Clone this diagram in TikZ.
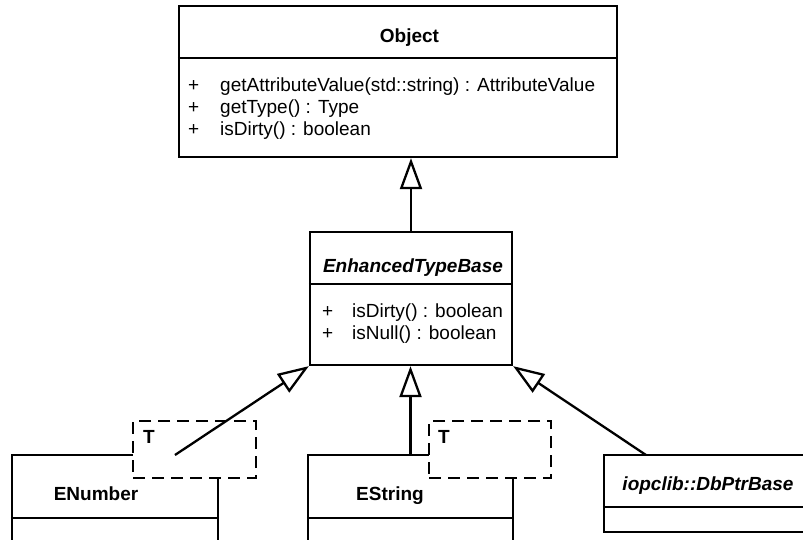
\documentclass[tikz,border=0pt]{standalone}
\usepackage{fontspec}
\setmainfont{Liberation Sans}
\usetikzlibrary{arrows.meta}

\begin{document}
\begin{tikzpicture}[x=1pt,y=-1pt,
    classbox/.style={draw,line width=2.3pt,fill=white,inner sep=0pt},
    tplbox/.style={draw,line width=2.3pt,dash pattern=on 12pt off 7pt,fill=white,inner sep=0pt},
    memb/.style={anchor=base west,inner sep=0pt,font=\fontsize{19}{22}\selectfont},
    cname/.style={anchor=base,inner sep=0pt,font=\fontsize{19}{22}\selectfont\bfseries},
    inherit/.style={-{Triangle[length=31pt,width=22pt,fill=white]},line width=2.3pt}]
                \useasboundingbox (0,0) rectangle (803,539);
                \clip (0,0) rectangle (803,539);
                % classes
                \node[classbox,minimum width=438pt,minimum height=151pt] (obj) at (398,81.5) {};
                \draw[line width=2.3pt] (obj.west |- 0,58) -- (obj.east |- 0,58);
                \node[cname] (objname) at (409.5,42) {Object};
                \foreach \m [count=\i] in {getAttributeValue(std::string) : AttributeValue, getType() : Type, isDirty() : boolean}
                  {\node[memb] (objplus\i) at (188,69+22*\i) {+};
                   \node[memb] (objop\i) at (220,69+22*\i) {\m};}
                \node[classbox,minimum width=202pt,minimum height=133pt] (etb) at (411,298.5) {};
                \draw[line width=2.3pt] (etb.west |- 0,284) -- (etb.east |- 0,284);
                \node[cname] (etbname) at (413,272) {\itshape EnhancedTypeBase};
                \foreach \m [count=\i] in {isDirty() : boolean, isNull() : boolean}
                  {\node[memb] (etbplus\i) at (322,295+22*\i) {+};
                   \node[memb] (etbop\i) at (352,295+22*\i) {\m};}
                \node[classbox,minimum width=206pt,minimum height=145pt] (enum) at (115,527.5) {};
                \draw[line width=2.3pt] (enum.west |- 0,518) -- (enum.east |- 0,518);
                \node[cname] (enumname) at (96,500) {ENumber};
                \node[classbox,minimum width=205pt,minimum height=145pt] (estr) at (410.5,527.5) {};
                \draw[line width=2.3pt] (estr.west |- 0,518) -- (estr.east |- 0,518);
                \node[cname] (estrname) at (390,500) {EString};
                \node[classbox,minimum width=226pt,minimum height=77pt] (dbp) at (717,493.5) {};
                \draw[line width=2.3pt] (dbp.west |- 0,507) -- (dbp.east |- 0,507);
                \node[cname] (dbpname) at (708,490) {\itshape iopclib::DbPtrBase};
                % template parameters
                \node[tplbox,minimum width=123pt,minimum height=57pt] (enumtpl) at (194.5,449.5) {};
                \node[cname,anchor=base west] (enumT) at (143,443) {T};
                \node[tplbox,minimum width=122pt,minimum height=57pt] (estrtpl) at (490,449.5) {};
                \node[cname,anchor=base west] (estrT) at (438,443) {T};
                % generalizations
                \coordinate (enumtop) at (175,455);
                \coordinate (dbptop) at (646,455);
                \draw[inherit] (etb.north) -- (etb.north |- obj.south);
                \draw[inherit] (enumtop) -- (etb.south west);
                \draw[inherit] (estr.north) -- (estr.north |- etb.south);
                \draw[inherit] (dbptop) -- (etb.south east);
            \end{tikzpicture}
\end{document}
